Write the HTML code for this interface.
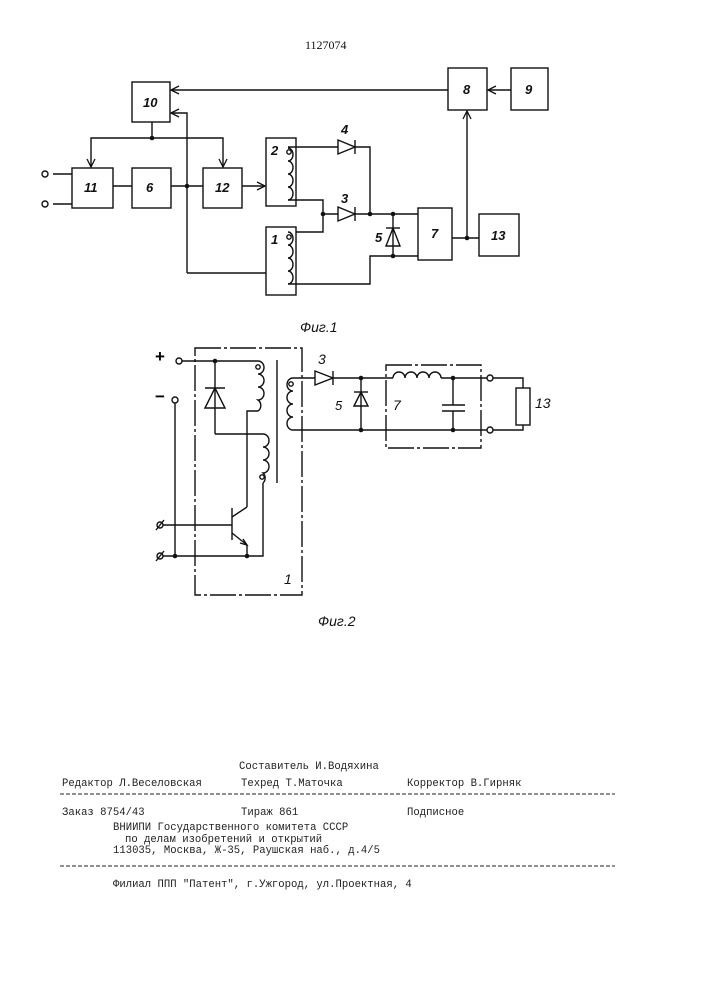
<!DOCTYPE html>
<html><head><meta charset="utf-8"><style>
html,body{margin:0;padding:0;background:#fff;}
svg{display:block;}
.t{font-family:"Liberation Mono","Noto Sans CJK SC",monospace;font-size:10.6px;fill:#222;}
.l{font-family:"Liberation Sans",sans-serif;font-style:italic;font-weight:bold;font-size:13px;fill:#111;}
</style></head><body>
<svg width="707" height="1000" viewBox="0 0 707 1000" xmlns="http://www.w3.org/2000/svg">
<defs><marker id="a" markerWidth="10" markerHeight="10" refX="9" refY="5" orient="auto" markerUnits="userSpaceOnUse"><path d="M1,1 L9,5 L1,9" fill="none" stroke="#111" stroke-width="1.3"/></marker></defs>
<text x="305" y="49" style="font-family:'Liberation Serif',serif;font-size:12px;fill:#111">1127074</text>
<g stroke="#111" stroke-width="1.4" fill="none">
<!-- Fig1 boxes -->
<rect x="132" y="82" width="38" height="40"/>
<rect x="448" y="68" width="39" height="42"/>
<rect x="511" y="68" width="37" height="42"/>
<rect x="72" y="168" width="41" height="40"/>
<rect x="132" y="168" width="39" height="40"/>
<rect x="203" y="168" width="39" height="40"/>
<rect x="266" y="138" width="30" height="68"/>
<rect x="266" y="227" width="30" height="68"/>
<rect x="418" y="208" width="34" height="52"/>
<rect x="479" y="214" width="40" height="42"/>
<line x1="448" y1="90" x2="171" y2="90" marker-end="url(#a)"/>
<line x1="511" y1="90" x2="488" y2="90" marker-end="url(#a)"/>
<polyline points="187,273 187,113 171,113" marker-end="url(#a)"/>
<line x1="152" y1="122" x2="152" y2="138"/>
<polyline points="152,138 91,138 91,167" marker-end="url(#a)"/>
<polyline points="152,138 223,138 223,167" marker-end="url(#a)"/>
<line x1="53" y1="174" x2="72" y2="174"/><line x1="53" y1="204" x2="72" y2="204"/>
<line x1="113" y1="186" x2="132" y2="186"/>
<line x1="171" y1="186" x2="203" y2="186"/>
<line x1="242" y1="186" x2="265" y2="186" marker-end="url(#a)"/>
<polyline points="187,273 266,273"/>
<!-- coils -->
<path d="M288,148 a5,6.5 0 0 1 0,13 a5,6.5 0 0 1 0,13 a5,6.5 0 0 1 0,13 a5,6.5 0 0 1 0,13"/>
<path d="M288,232 a5,6.5 0 0 1 0,13 a5,6.5 0 0 1 0,13 a5,6.5 0 0 1 0,13 a5,6.5 0 0 1 0,13"/>
<polyline points="288,147 338,147"/><polyline points="355,147 370,147 370,214"/>
<polyline points="288,200 323,200 323,214 338,214"/>
<polyline points="288,284 370,284 370,256 418,256"/>
<polyline points="296,232 323,232 323,214"/>
<line x1="355" y1="214" x2="418" y2="214"/>
<line x1="393" y1="214" x2="393" y2="256"/>
<line x1="452" y1="238" x2="479" y2="238"/>
<line x1="467" y1="238" x2="467" y2="111" marker-end="url(#a)"/>
<!-- diodes fig1 -->
<path d="M338,140 L355,147 L338,154 Z"/><line x1="355" y1="140" x2="355" y2="154"/>
<path d="M338,207 L355,214 L338,221 Z"/><line x1="355" y1="207" x2="355" y2="221"/>
<path d="M386,246 L393,228 L400,246 Z"/><line x1="386" y1="228" x2="400" y2="228"/>
<circle cx="45" cy="174" r="3" fill="#fff"/><circle cx="45" cy="204" r="3" fill="#fff"/>
<circle cx="289" cy="152" r="2.2"/><circle cx="289" cy="237" r="2.2"/>
</g>
<g fill="#111">
<circle cx="152" cy="138" r="2.3"/><circle cx="187" cy="186" r="2.3"/><circle cx="323" cy="214" r="2.3"/>
<circle cx="370" cy="214" r="2.3"/><circle cx="393" cy="214" r="2.3"/><circle cx="393" cy="256" r="2.3"/><circle cx="467" cy="238" r="2.3"/>
</g>
<text class="l" x="143" y="107">10</text><text class="l" x="463" y="94">8</text><text class="l" x="525" y="94">9</text>
<text class="l" x="84" y="192">11</text><text class="l" x="146" y="192">6</text><text class="l" x="215" y="192">12</text>
<text class="l" x="271" y="155">2</text><text class="l" x="271" y="244">1</text><text class="l" x="431" y="238">7</text>
<text class="l" x="491" y="240">13</text><text class="l" x="341" y="134">4</text><text class="l" x="341" y="203">3</text><text class="l" x="375" y="242">5</text>
<text class="l" x="300" y="332" style="font-weight:normal;font-size:14px">Фиг.1</text>
<!-- Fig2 -->
<g stroke="#111" stroke-width="1.4" fill="none">
<rect x="195" y="348" width="107" height="247" stroke-dasharray="26,3,3,3"/>
<rect x="386" y="365" width="95" height="83" stroke-dasharray="26,3,3,3"/>
<line x1="182" y1="361" x2="258" y2="361"/>
<path d="M258,361 a6,6.5 0 0 1 0,13 a6,6.5 0 0 1 0,13 a6,6.5 0 0 1 0,13 a6,6.5 0 0 1 0,11"/>
<polyline points="258,411 247,411 247,507"/>
<line x1="277" y1="360" x2="277" y2="483"/>
<line x1="215" y1="361" x2="215" y2="434"/>
<path d="M205,408 L215,388 L225,408 Z"/><line x1="205" y1="388" x2="225" y2="388"/>
<polyline points="215,434 263,434"/>
<path d="M263,434 a6,6.5 0 0 1 0,13 a6,6.5 0 0 1 0,13 a6,6.5 0 0 1 0,13 a6,6.5 0 0 1 0,10"/>
<polyline points="263,483 263,556 163,556"/>
<line x1="175" y1="403" x2="175" y2="556"/>
<line x1="163" y1="525" x2="232" y2="525"/>
<line x1="232" y1="508" x2="232" y2="540"/>
<line x1="232" y1="517" x2="247" y2="507"/>
<line x1="232" y1="533" x2="247" y2="545"/>
<line x1="247" y1="545" x2="247" y2="556"/>
<path d="M240,543 L247,545 L243,539"/>
<path d="M293,378 a6,6.5 0 0 0 0,13 a6,6.5 0 0 0 0,13 a6,6.5 0 0 0 0,13 a6,6.5 0 0 0 0,13"/>
<line x1="293" y1="378" x2="315" y2="378"/>
<path d="M315,371 L333,378 L315,385 Z"/><line x1="333" y1="371" x2="333" y2="385"/>
<line x1="333" y1="378" x2="393" y2="378"/>
<path d="M393,378 a6,6 0 0 1 12,0 a6,6 0 0 1 12,0 a6,6 0 0 1 12,0 a6,6 0 0 1 12,0"/>
<line x1="441" y1="378" x2="490" y2="378"/>
<line x1="293" y1="430" x2="490" y2="430"/>
<line x1="361" y1="378" x2="361" y2="430"/>
<path d="M354,406 L361,392 L368,406 Z"/><line x1="354" y1="392" x2="368" y2="392"/>
<line x1="453" y1="378" x2="453" y2="405"/><line x1="453" y1="411" x2="453" y2="430"/>
<line x1="442" y1="405" x2="465" y2="405"/><line x1="442" y1="411" x2="465" y2="411"/>
<polyline points="493,378 523,378 523,388"/><polyline points="493,430 523,430 523,425"/>
<rect x="516" y="388" width="14" height="37"/>
<circle cx="179" cy="361" r="3" fill="#fff"/><circle cx="175" cy="400" r="3" fill="#fff"/>
<circle cx="490" cy="378" r="3" fill="#fff"/><circle cx="490" cy="430" r="3" fill="#fff"/>
<circle cx="160" cy="525" r="3"/><circle cx="160" cy="556" r="3"/>
<line x1="156" y1="530" x2="164" y2="520"/><line x1="156" y1="561" x2="164" y2="551"/>
<circle cx="258" cy="367" r="2.2"/><circle cx="262" cy="477" r="2.2"/><circle cx="291" cy="384" r="2.2"/>
</g>
<g fill="#111">
<circle cx="215" cy="361" r="2.3"/><circle cx="175" cy="556" r="2.3"/><circle cx="247" cy="556" r="2.3"/>
<circle cx="361" cy="378" r="2.3"/><circle cx="361" cy="430" r="2.3"/><circle cx="453" cy="378" r="2.3"/><circle cx="453" cy="430" r="2.3"/>
</g>
<text x="155" y="362" style="font-family:'Liberation Sans',sans-serif;font-size:17px;font-weight:bold">+</text>
<text x="155" y="402" style="font-family:'Liberation Sans',sans-serif;font-size:17px;font-weight:bold">−</text>
<text class="l" x="318" y="364" style="font-weight:normal;font-size:14px">3</text>
<text class="l" x="335" y="410" style="font-weight:normal;font-size:13px">5</text>
<text class="l" x="393" y="410" style="font-weight:normal;font-size:14px">7</text>
<text class="l" x="535" y="408" style="font-weight:normal;font-size:14px">13</text>
<text class="l" x="284" y="584" style="font-weight:normal;font-size:14px">1</text>
<text class="l" x="318" y="626" style="font-weight:normal;font-size:14px">Фиг.2</text>
<!-- footer -->
<text class="t" x="239" y="769">Составитель И.Водяхина</text>
<text class="t" x="62" y="786">Редактор Л.Веселовская</text>
<text class="t" x="241" y="786">Техред Т.Маточка</text>
<text class="t" x="407" y="786">Корректор В.Гирняк</text>
<line x1="60" y1="794" x2="615" y2="794" stroke="#222" stroke-width="1" stroke-dasharray="4,2"/>
<text class="t" x="62" y="815">Заказ 8754/43</text>
<text class="t" x="241" y="815">Тираж 861</text>
<text class="t" x="407" y="815">Подписное</text>
<text class="t" x="113" y="830">ВНИИПИ Государственного комитета СССР</text>
<text class="t" x="125" y="842">по делам изобретений и открытий</text>
<text class="t" x="113" y="853">113035, Москва, Ж-35, Раушская наб., д.4/5</text>
<line x1="60" y1="866" x2="615" y2="866" stroke="#222" stroke-width="1" stroke-dasharray="4,2"/>
<text class="t" x="113" y="887">Филиал ППП "Патент", г.Ужгород, ул.Проектная, 4</text>
</svg>
</body></html>
